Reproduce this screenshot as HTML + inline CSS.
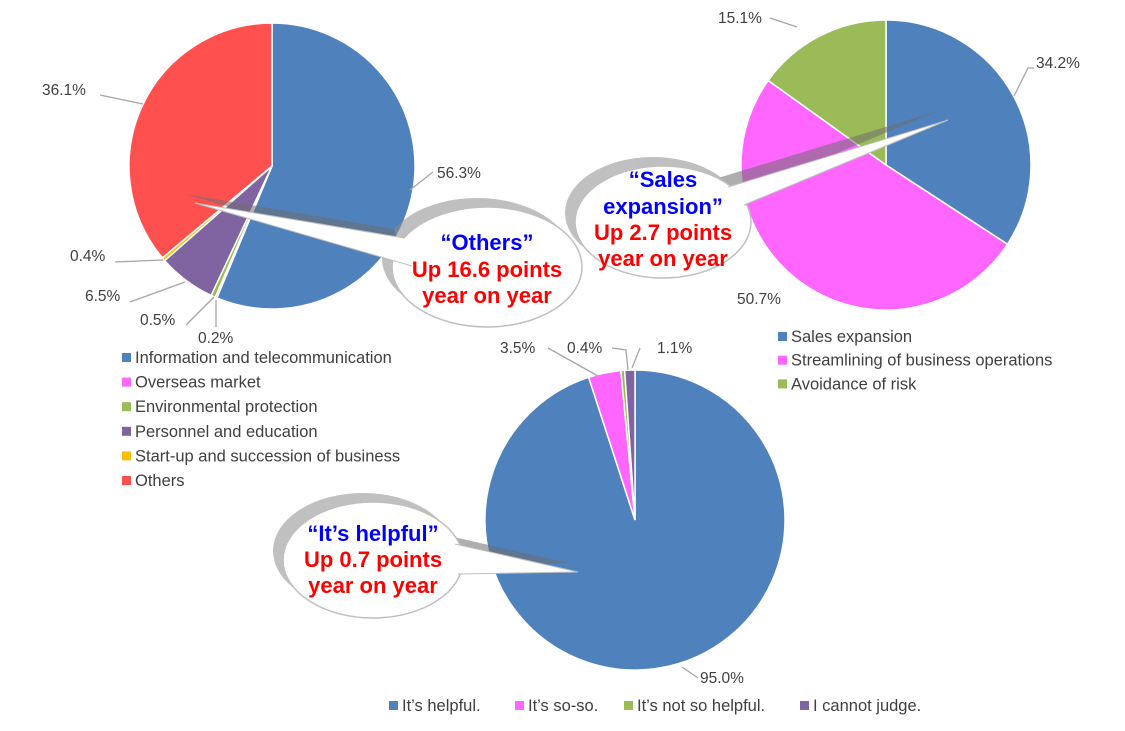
<!DOCTYPE html>
<html><head><meta charset="utf-8"><style>
body{margin:0;background:#fff;}
svg{display:block;font-family:"Liberation Sans",sans-serif;}
.lbl{font-size:15.5px;fill:#404040;}
.leg{font-size:16.5px;fill:#404040;}
.cb{font-weight:bold;font-size:22px;text-anchor:middle;}
</style></head><body>
<svg id="chart" width="1125" height="731" viewBox="0 0 1125 731" xmlns="http://www.w3.org/2000/svg">
<g id="pies"></g>
<g id="labels"></g>
<g id="legends"></g>
<g id="callouts"></g>
</svg>
<script>
const pie1Categories=["Information and telecommunication","Overseas market","Environmental protection","Personnel and education","Start-up and succession of business","Others"];
const pie1Values=[56.3,0.2,0.5,6.5,0.4,36.1];
const pie2Categories=["Sales expansion","Streamlining of business operations","Avoidance of risk"];
const pie2Values=[34.2,50.7,15.1];
const pie3Categories=["It\u2019s helpful.","It\u2019s so-so.","It\u2019s not so helpful.","I cannot judge."];
const pie3Values=[95.0,3.5,0.4,1.1];
const colors1=["#4f81bd","#ff66ff","#9bbb59","#8064a2","#f9c000","#ff5050"];
const colors2=["#4f81bd","#ff66ff","#9bbb59"];
const colors3=["#4f81bd","#ff66ff","#9bbb59","#8064a2"];
const NS="http://www.w3.org/2000/svg";
function mk(tag,attrs,parent){const e=document.createElementNS(NS,tag);for(const k in attrs)e.setAttribute(k,attrs[k]);parent.appendChild(e);return e;}
function pt(cx,cy,r,a){return [cx+r*Math.sin(a),cy-r*Math.cos(a)];}
function drawPie(name,cx,cy,r,vals,cols,cats){
  const g=document.getElementById('pies');
  const tot=vals.reduce((a,b)=>a+b,0);let a0=0;const mids=[];
  vals.forEach((v,i)=>{
    const a1=a0+v/tot*2*Math.PI;
    const p0=pt(cx,cy,r,a0),p1=pt(cx,cy,r,a1);
    const large=(a1-a0)>Math.PI?1:0;
    const p=mk('path',{d:`M${cx},${cy}L${p0[0]},${p0[1]}A${r},${r} 0 ${large} 1 ${p1[0]},${p1[1]}Z`,fill:cols[i],stroke:'#fff','stroke-width':1.5},g);
    
    
    mids.push((a0+a1)/2);a0=a1;
  });
  return mids;
}
const m1=drawPie('pie1',272,166,143,pie1Values,colors1,pie1Categories);
const m2=drawPie('pie2',886,165,145,pie2Values,colors2,pie2Categories);
const m3=drawPie('pie3',635,520,150,pie3Values,colors3,pie3Categories);
// labels: [value, textX, textY, anchor, leader polyline]
const lg=document.getElementById('labels');
function label(val,tx,ty,anchor,pts){
  if(pts){const l=mk('polyline',{points:pts,fill:'none',stroke:'#a6a6a6','stroke-width':1.3},lg);
  
  }
  const t=mk('text',{x:tx,y:ty,class:'lbl','text-anchor':anchor},lg);t.textContent=val.toFixed(1)+'%';
  
  
}
label(pie1Values[0],437,178,'start','410,190 433,172');
label(pie1Values[5],42,95,'start','100,95 143,104');
label(pie1Values[4],70,261,'start','115,262 163,260');
label(pie1Values[3],85,301,'start','130,302 185,282');
label(pie1Values[2],140,325,'start','186,325 214,297');
label(pie1Values[1],198,343,'start','216,300 216,327');
label(pie2Values[0],1036,68,'start','1014,96 1028,68 1034,68');
label(pie2Values[2],718,23,'start','770,18 797,27');
label(pie2Values[1],737,304,'start',null);
label(pie3Values[0],700,683,'start','682,667 698,678');
label(pie3Values[1],500,353,'start','548,348 598,376');
label(pie3Values[2],567,353,'start','612,348 626,350 628,370');
label(pie3Values[3],657,353,'start','640,348 632,368');
// legends
const lgd=document.getElementById('legends');
function legItem(x,y,col,txt,nm){
  const r=mk('rect',{x:x,y:y-10,width:9,height:9,fill:col},lgd);
  
  
  const t=mk('text',{x:x+13,y:y,class:'leg'},lgd);t.textContent=txt;
  
  
}
pie1Categories.forEach((c,i)=>legItem(122,363+i*24.6,colors1[i],c,'legend-entry'));
pie2Categories.forEach((c,i)=>legItem(778,342+i*23.7,colors2[i],c,'legend-entry'));
const l3x=[389,515,624,800];
pie3Categories.forEach((c,i)=>legItem(l3x[i],711,colors3[i],c,'legend-entry'));
// callouts
const cg=document.getElementById('callouts');
function callout(nm,cx,cy,rx,ry,tip,b1,b2,lines){
  const g=mk('g',{},cg);
  
  
  const sh=mk('g',{transform:'translate(-10,-9)',opacity:0.55},g);
  mk('ellipse',{cx:cx,cy:cy,rx:rx,ry:ry,fill:'#8c8c8c'},sh);
  mk('polygon',{points:`${b1} ${tip} ${b2}`,fill:'#6d6d6d'},sh);
  mk('ellipse',{cx:cx,cy:cy,rx:rx,ry:ry,fill:'#fff',stroke:'#bfbfbf','stroke-width':1.5},g);
  mk('polygon',{points:`${b1} ${tip} ${b2}`,fill:'#fff'},g);
  mk('polyline',{points:`${b1} ${tip} ${b2}`,fill:'none',stroke:'#bfbfbf','stroke-width':1},g);
  lines.forEach(l=>{const t=mk('text',{x:cx,y:l[1],class:'cb',fill:l[2]},g);t.textContent=l[0];});
}
callout('callout-others',487,267,95,60,'195,203','404,238','412,266',[['\u201cOthers\u201d',250,'#0000ff'],['Up 16.6 points',277,'#ff0000'],['year on year',303,'#ff0000']]);
callout('callout-sales',663,222,88,56,'948,120','728,187','744,205',[['\u201cSales',187,'#0000ff'],['expansion\u201d',214,'#0000ff'],['Up 2.7 points',240,'#ff0000'],['year on year',266,'#ff0000']]);
callout('callout-helpful',373,560,90,58,'578,572','455,544','458,574',[['\u201cIt\u2019s helpful\u201d',541,'#0000ff'],['Up 0.7 points',567,'#ff0000'],['year on year',593,'#ff0000']]);
</script>
</body></html>
